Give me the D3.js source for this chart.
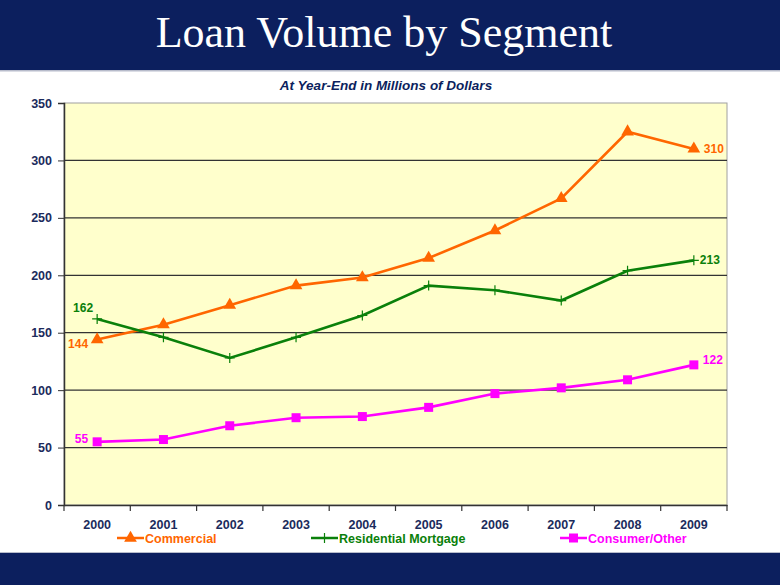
<!DOCTYPE html>
<html><head><meta charset="utf-8">
<script src="https://cdn.jsdelivr.net/npm/d3@7"></script>
<style>body{margin:0;background:#fff}svg{display:block}</style>
</head><body>
<svg id="c" width="780" height="585"></svg>
<script>
const years = ["2000","2001","2002","2003","2004","2005","2006","2007","2008","2009"];
const commercial = [144,157,174,191,198,215,239,267,325,310];
const residential = [162,146,128,146,165,191,187,178,204,213];
const consumer = [55,57,69,76,77,85,97,102,109,122];
const yTicks = [0,50,100,150,200,250,300,350];
const seriesNames = ["Commercial","Residential Mortgage","Consumer/Other"];

const svg = d3.select("#c");
const W=780,H=585;
const m={l:64,r:727,t:103,b:505};
const navy="#0c1f5e", axisCol="#1b2b5c";

svg.append("rect").attr("x",0).attr("y",0).attr("width",W).attr("height",70).attr("fill",navy);
svg.append("rect").attr("x",0).attr("y",70).attr("width",W).attr("height",1.5).attr("fill","#b8bccb");
svg.append("rect").attr("x",0).attr("y",553).attr("width",W).attr("height",32).attr("fill",navy);
svg.append("rect").attr("x",0).attr("y",552).attr("width",W).attr("height",1).attr("fill","#b8bccb");

svg.append("text").attr("x",384).attr("y",47).attr("text-anchor","middle")
  .attr("font-family","Liberation Serif, Times New Roman, serif").attr("font-size",44)
  .attr("fill","#fff").text("Loan Volume by Segment");
svg.append("text").attr("x",386).attr("y",90).attr("text-anchor","middle")
  .attr("font-family","Liberation Sans, Arial, sans-serif").attr("font-size",13.5)
  .attr("font-style","italic").attr("font-weight","bold").attr("fill",navy).text("At Year-End in Millions of Dollars");

const x=d3.scaleBand().domain(years).range([m.l,m.r]);
const y=d3.scaleLinear().domain([0,350]).range([m.b,m.t]);

svg.append("rect").attr("x",m.l).attr("y",m.t).attr("width",m.r-m.l).attr("height",m.b-m.t)
  .attr("fill","#ffffcc").attr("stroke","#a0a0a0").attr("stroke-width",1);

// gridlines
svg.append("g").selectAll("line").data(yTicks.filter(d=>d>0 && d<350)).join("line")
  .attr("x1",m.l).attr("x2",m.r).attr("y1",d=>y(d)).attr("y2",d=>y(d))
  .attr("stroke","#333").attr("stroke-width",1.2);

// y axis
const ya=svg.append("g").attr("transform",`translate(${m.l},0)`)
  .call(d3.axisLeft(y).tickValues(yTicks).tickSize(6).tickPadding(6));
ya.select(".domain").attr("stroke","#333").attr("stroke-width",1.5);
ya.selectAll(".tick line").attr("stroke","#333");
ya.selectAll("text").attr("font-family","Liberation Sans, Arial, sans-serif").attr("font-size",12.5)
  .attr("font-weight","bold").attr("fill",axisCol);

// x axis
const xa=svg.append("g").attr("transform",`translate(0,${m.b})`)
  .call(d3.axisBottom(x).tickSize(0).tickPadding(15));
xa.select(".domain").attr("stroke","#333").attr("stroke-width",1.5);
xa.selectAll("text").attr("font-family","Liberation Sans, Arial, sans-serif").attr("font-size",12.5)
  .attr("font-weight","bold").attr("fill",axisCol);
// boundary ticks
svg.append("g").selectAll("line").data(years.concat(["end"])).join("line")
  .attr("x1",(d,i)=>m.l+i*x.step()).attr("x2",(d,i)=>m.l+i*x.step())
  .attr("y1",m.b).attr("y2",m.b+6).attr("stroke","#333").attr("stroke-width",1.2);

const cx=d=>x(d)+x.bandwidth()/2;
const series=[
  {name:seriesNames[0],vals:commercial,color:"#ff6600",marker:"tri"},
  {name:seriesNames[1],vals:residential,color:"#0a800a",marker:"plus"},
  {name:seriesNames[2],vals:consumer,color:"#ff00ff",marker:"sq"}
];
const line=d3.line().x((d,i)=>cx(years[i])).y(d=>y(d));
function marker(g,type,color,px,py){
  if(type==="tri") g.append("path").attr("d",d3.symbol(d3.symbolTriangle,70)()).attr("transform",`translate(${px},${py})`).attr("fill",color);
  else if(type==="sq") g.append("rect").attr("x",px-4.5).attr("y",py-4.5).attr("width",9).attr("height",9).attr("fill",color);
  else g.append("path").attr("d",`M${px-5},${py}H${px+5}M${px},${py-5}V${py+5}`).attr("stroke",color).attr("stroke-width",1.2);
}
series.forEach(s=>{
  svg.append("path").datum(s.vals).attr("d",line).attr("fill","none").attr("stroke",s.color).attr("stroke-width",2.6);
  const g=svg.append("g");
  s.vals.forEach((v,i)=>marker(g,s.marker,s.color,cx(years[i]),y(v)));
});

// data labels
const lf="Liberation Sans, Arial, sans-serif";
function lab(txt,px,py,color,anchor){
  svg.append("text").attr("x",px).attr("y",py).attr("text-anchor",anchor).attr("font-family",lf)
   .attr("font-size",12).attr("font-weight","bold").attr("fill",color).text(txt);
}
lab(commercial[0],cx(years[0])-9,y(commercial[0])+8,"#ff6600","end");
lab(residential[0],cx(years[0])-4,y(residential[0])-7,"#0a800a","end");
lab(consumer[0],cx(years[0])-9,y(consumer[0])+1,"#ff00ff","end");
lab(commercial[9],cx(years[9])+10,y(commercial[9])+4,"#ff6600","start");
lab(residential[9],cx(years[9])+6,y(residential[9])+4,"#0a800a","start");
lab(consumer[9],cx(years[9])+9,y(consumer[9])-1,"#ff00ff","start");

// legend
const legX=[117,311,560];
series.forEach((s,i)=>{
  const lx=legX[i], ly=538;
  svg.append("line").attr("x1",lx).attr("x2",lx+27).attr("y1",ly).attr("y2",ly).attr("stroke",s.color).attr("stroke-width",2.5);
  marker(svg,s.marker,s.color,lx+13.5,ly);
  svg.append("text").attr("x",lx+28).attr("y",ly+4.5).attr("font-family",lf).attr("font-size",12.5)
   .attr("font-weight","bold").attr("fill",s.color).text(s.name);
});
</script>
</body></html>
